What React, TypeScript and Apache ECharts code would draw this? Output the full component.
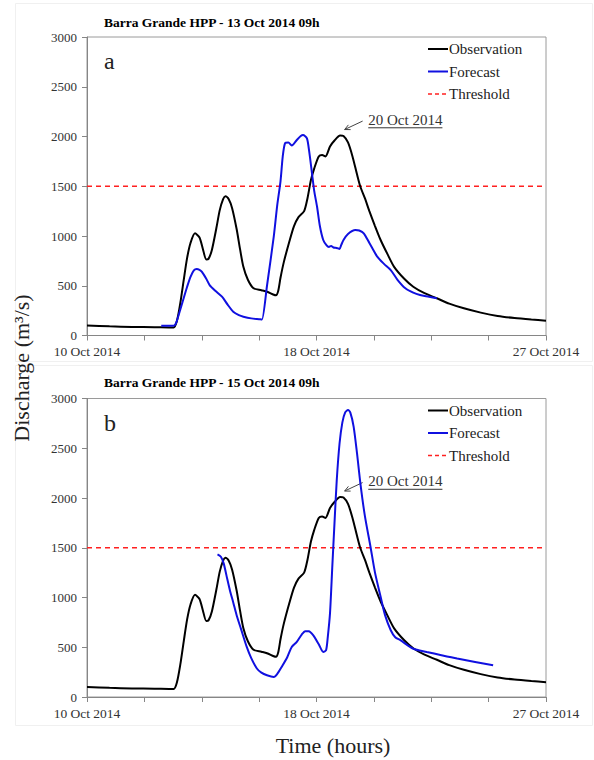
import React, { useEffect, useRef } from "react";
import * as echarts from "echarts";

// ---- Data (hours since 10 Oct 2014 00h, discharge m³/s) ----
const obsHours = [0, 20, 40, 60, 77, 80, 83, 86, 89, 92, 96, 100, 103, 106, 108, 111, 115, 118, 121, 123, 126, 129, 133, 136, 139, 143, 148, 155, 160, 166, 168, 170, 172, 175, 180, 184, 188, 193, 196, 199, 202, 206, 209, 212, 216, 220, 225, 228, 232, 236, 240, 243, 247, 251, 256, 261, 267, 273, 282, 290, 300, 311, 322, 335, 350, 365, 380, 395, 408];
const obsValues = [100, 92, 86, 83, 80, 150, 330, 560, 780, 930, 1027, 985, 870, 765, 770, 860, 1080, 1260, 1370, 1400, 1370, 1280, 1070, 870, 690, 560, 475, 455, 440, 410, 405, 450, 580, 740, 950, 1100, 1190, 1250, 1380, 1560, 1680, 1800, 1815, 1800, 1900, 1960, 2010, 2005, 1940, 1800, 1620, 1495, 1380, 1250, 1100, 960, 820, 690, 570, 490, 425, 374, 320, 273, 230, 196, 175, 160, 149];

const fcstAHours = [66, 77, 79, 81, 85, 89, 92, 95, 97.5, 100, 102, 106, 109, 114, 120, 125, 130, 135, 139, 146, 154, 155.5, 160, 166, 169, 172, 174, 176, 179, 182, 186.5, 190, 192, 195.5, 197.5, 200, 202, 204.5, 207, 210, 213, 215, 217, 219, 222, 224.5, 226, 228, 232, 238.5, 242, 246, 251, 258, 264, 270, 276, 283, 290, 296, 304, 311];
const fcstAValues = [98, 98, 120, 189, 340, 490, 590, 655, 668, 660, 641, 570, 507, 450, 390, 310, 239, 205, 189, 172, 163, 160, 500, 993, 1300, 1550, 1800, 1932, 1940, 1910, 1965, 2005, 2015, 1982, 1850, 1630, 1450, 1294, 1100, 960, 905, 890, 900, 885, 880, 870, 910, 960, 1020, 1060, 1055, 1027, 930, 792, 720, 658, 560, 474, 430, 407, 390, 374];

const fcstBHours = [116, 119, 121.5, 124, 127, 130, 133, 137, 142, 146, 151, 155, 160, 166, 169, 173, 178, 182, 186.5, 191, 194, 197, 201, 206, 210, 212.5, 214, 216, 218, 220, 222, 224.5, 227, 229.5, 232, 234, 237, 240, 243, 247, 252, 256, 261, 265, 270, 274, 278.5, 290, 302, 315, 329, 345, 361];
const fcstBValues = [1433, 1410, 1343, 1220, 1074, 950, 822, 680, 503, 390, 286, 245, 218, 201, 230, 302, 400, 503, 554, 630, 661, 660, 621, 530, 453, 470, 600, 840, 1300, 1750, 2180, 2550, 2760, 2860, 2885, 2860, 2718, 2450, 2148, 1820, 1510, 1250, 1007, 820, 671, 600, 571, 485, 453, 420, 386, 352, 319];

const thresholdHours = [0, 408];
const thresholdValues = [1500, 1500];

const xLabelHours = [0, 204, 408];
const xLabelTexts = ["10 Oct 2014", "18 Oct 2014", "27 Oct 2014"];

const panelTitles = ["Barra Grande HPP - 13 Oct 2014 09h", "Barra Grande HPP - 15 Oct 2014 09h"];
const panelLetters = ["a", "b"];
const legendNames = ["Observation", "Forecast", "Threshold"];
const legendColors = ["#000000", "#1010e0", "#ff2020"];
const annotationText = "20 Oct 2014";
const annHead = [229, 2070];
const annTail = [245, 2155];
const annText = [250, 2168];

const FONT = "Liberation Serif, DejaVu Serif, serif";

const zip = (h: number[], v: number[]) => h.map((x, i) => [x, v[i]]);

export default function App() {
  const ref = useRef<HTMLDivElement>(null);
  useEffect(() => {
    const chart = echarts.init(ref.current!, null, { renderer: "svg" });
    const grids = [
      { left: 87, top: 37, width: 459, height: 298.5 },
      { left: 87, top: 398.5, width: 459, height: 298.5 },
    ];
    const xAxes = grids.map((_, i) => ({
      type: "value",
      gridIndex: i,
      min: 0,
      max: 408,
      interval: 51,
      splitLine: { show: false },
      axisLine: { lineStyle: { color: "#868686", width: 1 } },
      axisTick: { length: 5, lineStyle: { color: "#868686" } },
      axisLabel: {
        margin: 9,
        fontFamily: FONT,
        fontSize: 13.5,
        color: "#333",
        showMinLabel: true,
        showMaxLabel: true,
        formatter: (v: number) => {
          const k = xLabelHours.indexOf(v);
          return k >= 0 ? xLabelTexts[k] : "";
        },
      },
    }));
    const yAxes = grids.map((_, i) => ({
      type: "value",
      gridIndex: i,
      min: 0,
      max: 3000,
      interval: 500,
      splitLine: { show: false },
      axisLine: { show: true, lineStyle: { color: "#868686", width: 1 } },
      axisTick: { show: true, length: 5, lineStyle: { color: "#868686" } },
      axisLabel: { margin: 10, fontFamily: FONT, fontSize: 13, color: "#333", formatter: (v: number) => String(v) },
    }));
    const fc = [fcstAHours, fcstBHours];
    const fv = [fcstAValues, fcstBValues];
    const series: any[] = [];
    [0, 1].forEach((i) => {
      series.push({
        name: "Observation",
        type: "line",
        xAxisIndex: i,
        yAxisIndex: i,
        data: zip(obsHours, obsValues),
        showSymbol: false,
        symbol: "none",
        smooth: 0.25,
        lineStyle: { color: legendColors[0], width: 2 },
        z: 3,
      });
      series.push({
        name: "Forecast",
        type: "line",
        xAxisIndex: i,
        yAxisIndex: i,
        data: zip(fc[i], fv[i]),
        showSymbol: false,
        symbol: "none",
        smooth: 0.25,
        lineStyle: { color: legendColors[1], width: 2 },
        z: 4,
      });
      series.push({
        name: "Threshold",
        type: "line",
        xAxisIndex: i,
        yAxisIndex: i,
        data: zip(thresholdHours, thresholdValues),
        showSymbol: false,
        symbol: "none",
        lineStyle: { color: legendColors[2], width: 1.3, type: [5, 4] },
        z: 2,
      });
    });
    chart.setOption({
      animation: false,
      backgroundColor: "#fff",
      title: panelTitles.map((t, i) => ({
        text: t,
        left: 99,
        top: i === 0 ? 10 : 370,
        textStyle: { fontFamily: FONT, fontSize: 13.5, fontWeight: "bold", color: "#000" },
      })),
      grid: grids.map((g) => ({ ...g, show: true, borderColor: "#9a9a9a", borderWidth: 1, backgroundColor: "transparent" })),
      xAxis: xAxes,
      yAxis: yAxes,
      series,
    });

    const ctx = document.createElement("canvas").getContext("2d")!;
    ctx.font = "15px Liberation Serif";
    const annW = ctx.measureText(annotationText).width;

    const graphics: any[] = [
      { type: "rect", shape: { x: 15.5, y: 3.5, width: 577, height: 358 }, style: { fill: "none", stroke: "#f0f0f0", lineWidth: 1 }, z: -10, silent: true },
      { type: "rect", shape: { x: 15.5, y: 365.5, width: 577, height: 360 }, style: { fill: "none", stroke: "#f0f0f0", lineWidth: 1 }, z: -10, silent: true },
      {
        type: "text",
        x: 21,
        y: 368,
        rotation: Math.PI / 2,
        style: { text: "Discharge (m³/s)", fontFamily: FONT, fontSize: 22, fill: "#222", textAlign: "center", textVerticalAlign: "middle" },
      },
      {
        type: "text",
        x: 333,
        y: 745,
        style: { text: "Time (hours)", fontFamily: FONT, fontSize: 22, fill: "#222", textAlign: "center", textVerticalAlign: "middle" },
      },
    ];
    [0, 1].forEach((g) => {
      const tl = grids[g];
      graphics.push({
        type: "text",
        x: 104,
        y: tl.top + 24,
        style: { text: panelLetters[g], fontFamily: FONT, fontSize: 24, fill: "#222", textAlign: "left", textVerticalAlign: "middle" },
      });
      // legend
      const legTop = tl.top + 12;
      legendNames.forEach((nm, k) => {
        const y = legTop + k * 22.5;
        graphics.push({
          type: "line",
          shape: { x1: 428, y1: y, x2: 448, y2: y },
          style: { stroke: legendColors[k], lineWidth: k === 2 ? 1.3 : 2, lineDash: k === 2 ? [4, 3] : null },
        });
        graphics.push({
          type: "text",
          x: 449,
          y,
          style: { text: nm, fontFamily: FONT, fontSize: 15, fill: "#222", textAlign: "left", textVerticalAlign: "middle" },
        });
      });
      const head = chart.convertToPixel({ gridIndex: g } as any, annHead) as number[];
      const tail = chart.convertToPixel({ gridIndex: g } as any, annTail) as number[];
      const tp = chart.convertToPixel({ gridIndex: g } as any, annText) as number[];
      graphics.push({ type: "line", shape: { x1: tail[0], y1: tail[1], x2: head[0], y2: head[1] }, style: { stroke: "#444", lineWidth: 1 } });
      const dx = head[0] - tail[0];
      const dy = head[1] - tail[1];
      const len = Math.hypot(dx, dy);
      const ux = dx / len;
      const uy = dy / len;
      const ah = 6;
      const ang = 0.45;
      const p1 = [head[0] - ah * (ux * Math.cos(ang) - uy * Math.sin(ang)), head[1] - ah * (uy * Math.cos(ang) + ux * Math.sin(ang))];
      const p2 = [head[0] - ah * (ux * Math.cos(-ang) - uy * Math.sin(-ang)), head[1] - ah * (uy * Math.cos(-ang) + ux * Math.sin(-ang))];
      graphics.push({ type: "polyline", shape: { points: [p1, head, p2] }, style: { stroke: "#444", lineWidth: 1, fill: "none" } });
      graphics.push({
        type: "text",
        x: tp[0],
        y: tp[1],
        style: { text: annotationText, fontFamily: FONT, fontSize: 15, fill: "#333", textAlign: "left", textVerticalAlign: "middle" },
      });
      graphics.push({ type: "line", shape: { x1: tp[0], y1: tp[1] + 8, x2: tp[0] + annW, y2: tp[1] + 8 }, style: { stroke: "#333", lineWidth: 1 } });
    });
    chart.setOption({ graphic: graphics });
    return () => chart.dispose();
  }, []);
  return <div ref={ref} style={{ position: "absolute", left: 0, top: 0, width: 594, height: 760 }} />;
}
